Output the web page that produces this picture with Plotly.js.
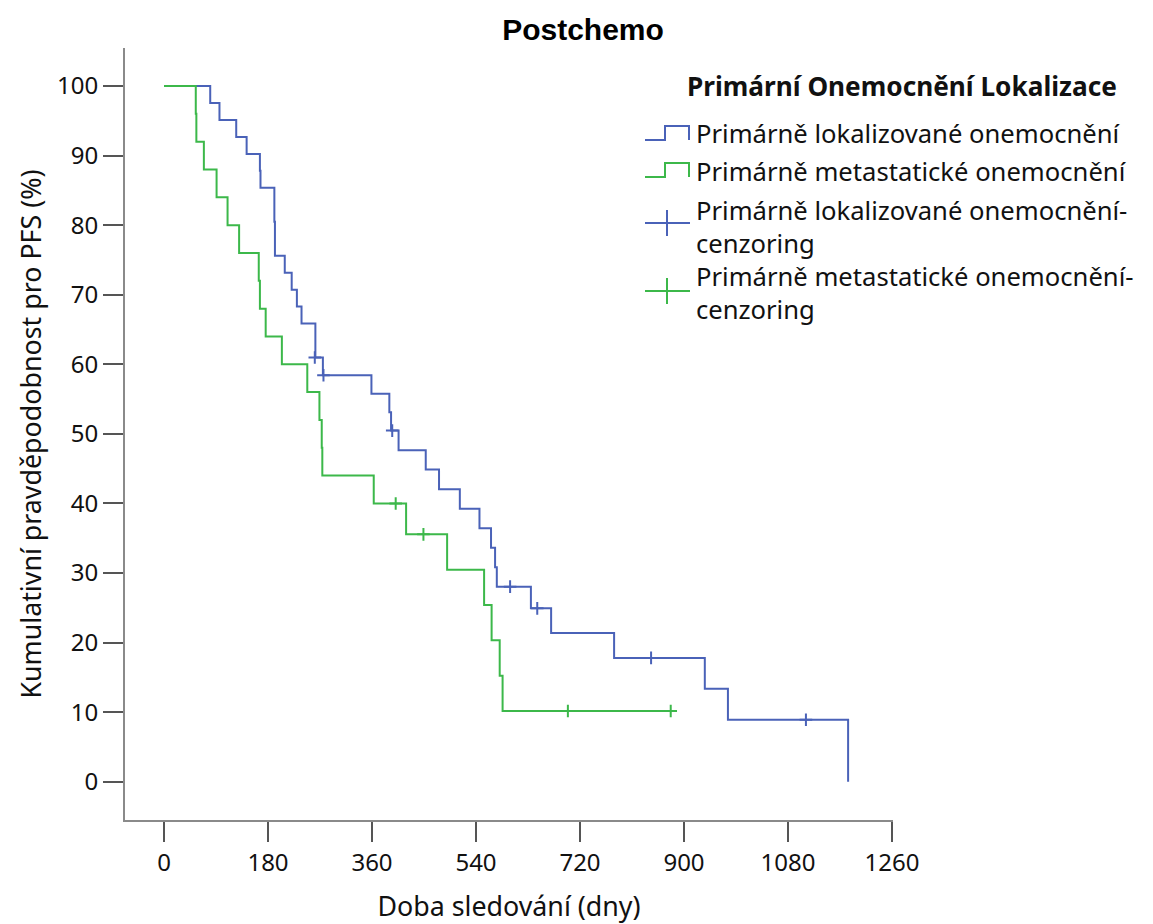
<!DOCTYPE html>
<html>
<head>
<meta charset="utf-8">
<script src="https://cdn.plot.ly/plotly-3.0.1.min.js"></script>
<style>html,body{margin:0;padding:0;background:#fff;}#chart{width:1153px;height:924px;}</style>
</head>
<body>
<div id="chart"></div>
<script>
// ---- Data (Kaplan–Meier steps) ----
const blueDays = [0, 80, 96, 125, 143, 166, 167, 191, 191, 192, 192, 209, 221, 230, 238, 262, 262, 275, 359, 390, 393, 406, 453, 476, 512, 546, 566, 573, 576, 635, 670, 779, 936, 976, 1184];
const blueSurv = [100, 97.56, 95.12, 92.68, 90.24, 87.80, 85.37, 82.93, 80.49, 78.05, 75.61, 73.17, 70.73, 68.29, 65.85, 63.41, 60.98, 58.43, 55.78, 53.12, 50.47, 47.66, 44.86, 42.05, 39.25, 36.45, 33.64, 30.84, 28.04, 24.92, 21.36, 17.80, 13.35, 8.90, 0];
const blueCensDays = [261, 276, 395, 599, 646, 843, 1111];
const blueCensSurv = [60.98, 58.43, 50.47, 28.04, 24.92, 17.80, 8.90];

const greenDays = [0, 55, 56, 69, 91, 110, 130, 164, 166, 176, 204, 248, 269, 273, 274, 363, 419, 490, 554, 567, 581, 586, 877];
const greenSurv = [100, 96, 92, 88, 84, 80, 76, 72, 68, 64, 60, 56, 52, 48, 44, 40, 35.56, 30.48, 25.40, 20.32, 15.24, 10.16, 10.16];
const greenCensDays = [401, 449, 699, 877];
const greenCensSurv = [40, 35.56, 10.16, 10.16];

const xTicks = [0, 180, 360, 540, 720, 900, 1080, 1260];
const yTicks = [0, 10, 20, 30, 40, 50, 60, 70, 80, 90, 100];

const seriesNames = ['Primárně lokalizované onemocnění', 'Primárně metastatické onemocnění',
  'Primárně lokalizované onemocnění-<br>cenzoring', 'Primárně metastatické onemocnění-<br>cenzoring'];
const legendTitle = 'Primární Onemocnění Lokalizace';

const BLUE = '#4a62b8';
const GREEN = '#3cb84a';
const FONT = 'Noto Sans';

const traces = [
  {x: blueDays, y: blueSurv, mode: 'lines', line: {shape: 'hv', color: BLUE, width: 2}, name: seriesNames[0], hoverinfo: 'x+y'},
  {x: greenDays, y: greenSurv, mode: 'lines', line: {shape: 'hv', color: GREEN, width: 2}, name: seriesNames[1], hoverinfo: 'x+y'},
  {x: blueCensDays, y: blueCensSurv, mode: 'markers', marker: {symbol: 'cross-thin-open', size: 9, color: BLUE, line: {color: BLUE, width: 2}}, name: seriesNames[2]},
  {x: greenCensDays, y: greenCensSurv, mode: 'markers', marker: {symbol: 'cross-thin-open', size: 9, color: GREEN, line: {color: GREEN, width: 2}}, name: seriesNames[3]}
];

// layout geometry (pixels)
const W = 1153, H = 924, L = 125, R = 260, T = 48, B = 104;
const pw = W - L - R, ph = H - T - B;
const px = v => (v - L) / pw;          // pixel x -> paper
const py = v => (H - B - v) / ph;      // pixel y -> paper

const shapes = [];
const annotations = [];
// legend title
annotations.push({xref: 'paper', yref: 'paper', x: px(685), y: py(86), xanchor: 'left', yanchor: 'middle',
  text: '<b>' + legendTitle + '</b>', showarrow: false, font: {family: FONT, size: 26.2, color: '#111'}});
// step icons
function stepIcon(cy, color) {
  const lo = cy + 7, hi = cy - 7;
  shapes.push({type: 'path', xref: 'paper', yref: 'paper',
    path: `M ${px(645)} ${py(lo)} L ${px(665)} ${py(lo)} L ${px(665)} ${py(hi)} L ${px(689)} ${py(hi)} L ${px(689)} ${py(lo)}`,
    line: {color: color, width: 2}});
}
function crossIcon(cy, color) {
  shapes.push({type: 'line', xref: 'paper', yref: 'paper', x0: px(645), x1: px(690), y0: py(cy), y1: py(cy), line: {color: color, width: 2}});
  shapes.push({type: 'line', xref: 'paper', yref: 'paper', x0: px(667), x1: px(667), y0: py(cy - 13), y1: py(cy + 13), line: {color: color, width: 2}});
}
stepIcon(133, BLUE);
stepIcon(170, GREEN);
crossIcon(223, BLUE);
crossIcon(291, GREEN);
const itemY = [134, 171, 227, 293];
const itemTxt = [seriesNames[0], seriesNames[1], seriesNames[2], seriesNames[3]];
for (let i = 0; i < 4; i++) {
  annotations.push({xref: 'paper', yref: 'paper', x: px(694), y: py(itemY[i]), xanchor: 'left', yanchor: 'middle', align: 'left',
    text: itemTxt[i], showarrow: false, font: {family: FONT, size: 25.6, color: '#111'}});
}

const layout = {
  width: W, height: H,
  margin: {l: L, r: R, t: T, b: B, pad: 0},
  paper_bgcolor: '#fff', plot_bgcolor: '#fff',
  showlegend: false,
  title: {text: '<b>Postchemo</b>', font: {family: 'Liberation Sans', size: 30, color: '#000'},
    x: 583 / W, xref: 'container', xanchor: 'center', y: 1 - 29 / H, yref: 'container', yanchor: 'middle'},
  xaxis: {
    range: [-67.5, 1261.7], tickvals: xTicks, ticktext: xTicks.map(String),
    showgrid: false, zeroline: false, showline: true, linecolor: '#8a8a8a', linewidth: 2,
    ticks: 'outside', ticklen: 20, tickwidth: 2, tickcolor: '#555',
    tickfont: {family: FONT, size: 24, color: '#111'},
    title: {text: 'Doba sledování (dny)', font: {family: FONT, size: 26.8, color: '#111'}, standoff: 24},
    automargin: false
  },
  yaxis: {
    range: [-5.5, 105.46], tickvals: yTicks, ticktext: yTicks.map(String),
    showgrid: false, zeroline: false, showline: true, linecolor: '#8a8a8a', linewidth: 2,
    ticks: 'outside', ticklen: 20, tickwidth: 2, tickcolor: '#555',
    tickfont: {family: FONT, size: 24, color: '#111'},
    title: {text: 'Kumulativní pravděpodobnost pro PFS (%)', font: {family: FONT, size: 26.8, color: '#111'}, standoff: 8},
    automargin: false
  },
  shapes: shapes,
  annotations: annotations
};

Plotly.newPlot('chart', traces, layout, {displayModeBar: false, staticPlot: true});
</script>
</body>
</html>
